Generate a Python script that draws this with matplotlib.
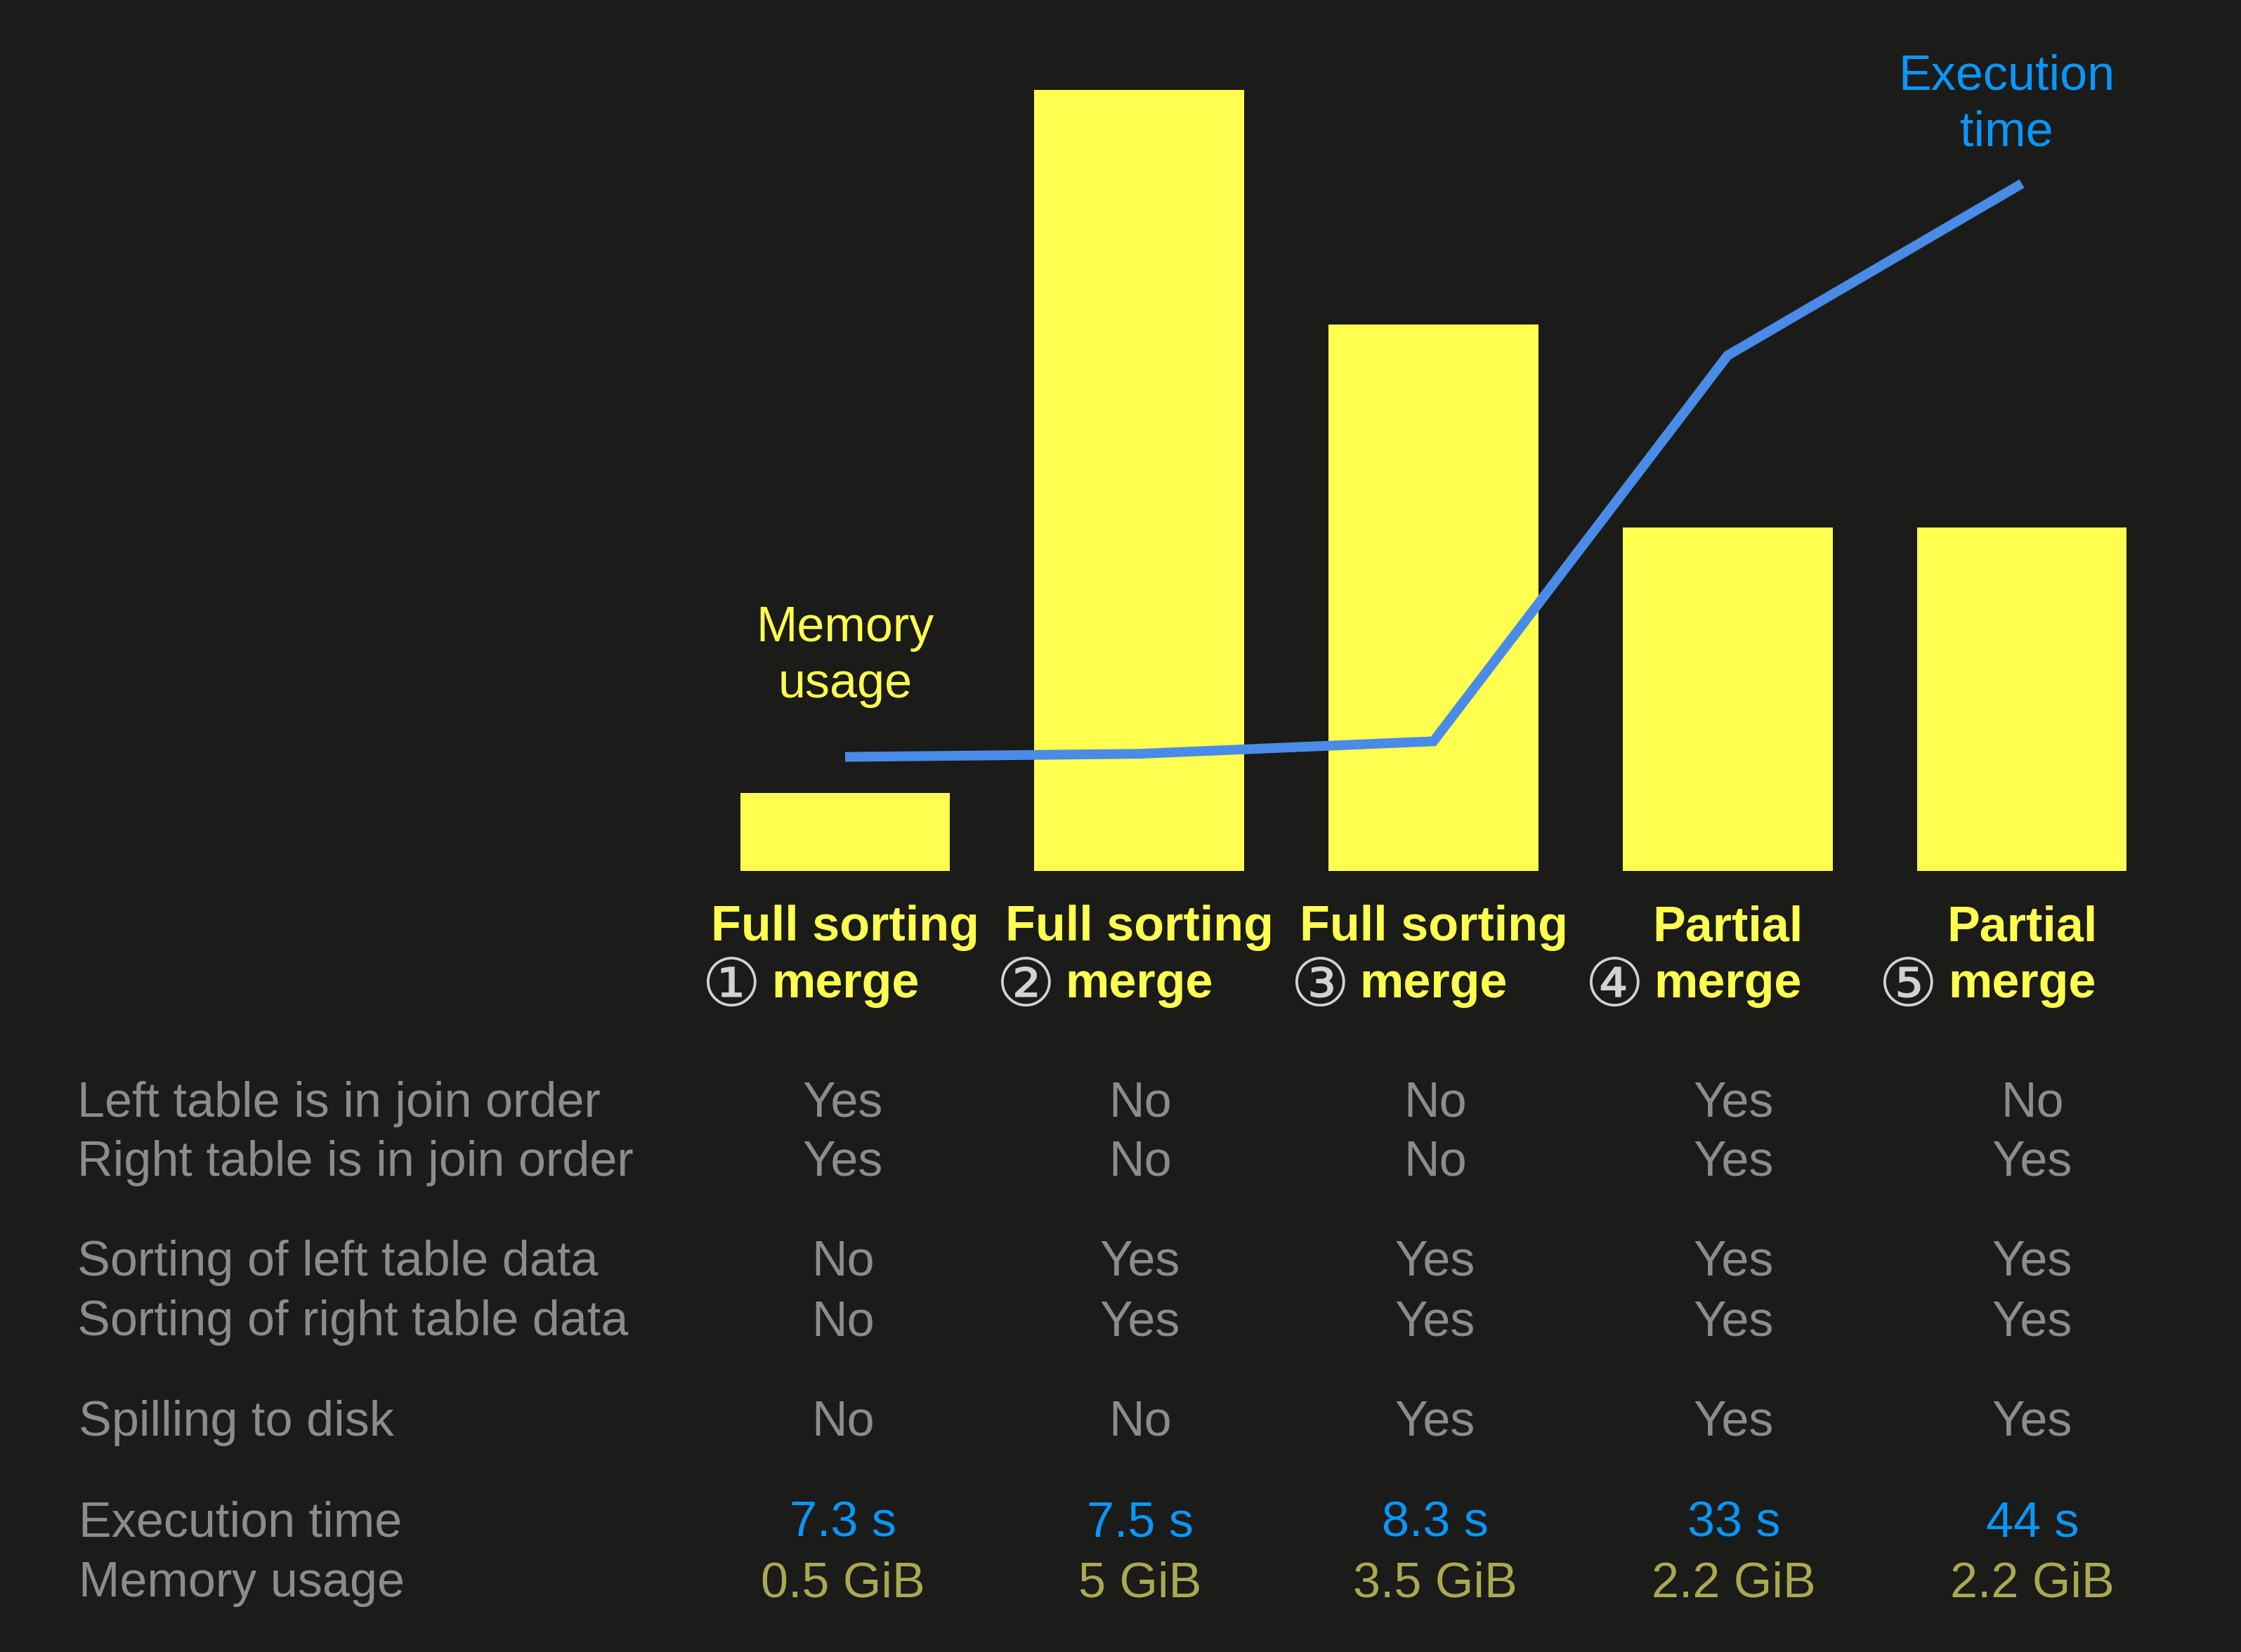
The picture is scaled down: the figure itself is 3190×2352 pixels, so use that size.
import matplotlib
matplotlib.use("Agg")
import matplotlib.pyplot as plt
from matplotlib.transforms import blended_transform_factory

# ---------------- data ----------------
categories = ["Full sorting merge", "Full sorting merge", "Full sorting merge",
              "Partial merge", "Partial merge"]
circled = ["\u2460", "\u2461", "\u2462", "\u2463", "\u2464"]
memory_gib = [0.5, 5, 3.5, 2.2, 2.2]
exec_time_s = [7.3, 7.5, 8.3, 33, 44]

row_labels = ["Left table is in join order", "Right table is in join order",
              "Sorting of left table data", "Sorting of right table data",
              "Spilling to disk", "Execution time", "Memory usage"]
left_in_order = ["Yes", "No", "No", "Yes", "No"]
right_in_order = ["Yes", "No", "No", "Yes", "Yes"]
sort_left = ["No", "Yes", "Yes", "Yes", "Yes"]
sort_right = ["No", "Yes", "Yes", "Yes", "Yes"]
spilling = ["No", "No", "Yes", "Yes", "Yes"]
exec_labels = ["7.3 s", "7.5 s", "8.3 s", "33 s", "44 s"]
mem_labels = ["0.5 GiB", "5 GiB", "3.5 GiB", "2.2 GiB", "2.2 GiB"]

# ---------------- style ----------------
BG = "#1b1b19"
YELLOW = "#ffff50"
LINE_BLUE = "#4a8be8"
TEXT_BLUE = "#0a96f8"
GRAY = "#8c8c8a"
OLIVE = "#a9a952"
CIRCLE_GRAY = "#d2d2d2"
FONT = ["Liberation Sans", "DejaVu Sans"]
FS = 50.5

W, H = 3190, 2352
fig = plt.figure(figsize=(W / 100, H / 100), dpi=100, facecolor=BG)


def fx(px):
    return px / W


def fy(py):
    return 1 - py / H


ax_left, ax_right = 993.6, 993.6 + 2093.75
ax_top, ax_bottom = 16.8, 1240
ax = fig.add_axes([fx(ax_left), fy(ax_bottom), (ax_right - ax_left) / W,
                   (ax_bottom - ax_top) / H])
ax.set_facecolor("none")
x = list(range(len(categories)))
ax.bar(x, memory_gib, width=0.713, color=YELLOW, zorder=1)
ax.set_xlim(-0.5, 4.5)
ax.set_ylim(0, 5.5)
ax.axis("off")

ax2 = ax.twinx()
ax2.set_ylim(0, 55)
ax2.plot(x, exec_time_s, color=LINE_BLUE, lw=10, solid_joinstyle="miter",
         solid_capstyle="butt", zorder=3)
ax2.axis("off")

bt = blended_transform_factory(ax.transData, fig.transFigure)

# annotations
ax.text(0, fy(913), "Memory", transform=bt, ha="center", va="baseline",
        color=YELLOW, fontsize=FS, family=FONT)
ax.text(0, fy(993), "usage", transform=bt, ha="center", va="baseline",
        color=YELLOW, fontsize=FS, family=FONT)
fig.text(fx(2856), fy(128), "Execution", ha="center", va="baseline",
         color=TEXT_BLUE, fontsize=FS, family=FONT)
fig.text(fx(2856), fy(208), "time", ha="center", va="baseline",
         color=TEXT_BLUE, fontsize=FS, family=FONT)

# category labels
for i, cat in enumerate(categories):
    first, second = cat.rsplit(" ", 1)
    ax.text(i, fy(1339), first, transform=bt, ha="center", va="baseline",
            color=YELLOW, fontsize=FS, fontweight="bold", family=FONT, clip_on=False)
    ax.text(i, fy(1420), second, transform=bt, ha="center", va="baseline",
            color=YELLOW, fontsize=FS, fontweight="bold", family=FONT, clip_on=False)
    ax.text(i - 0.385, fy(1432), circled[i], transform=bt, ha="center", va="baseline",
            color=CIRCLE_GRAY, fontsize=68, family=["DejaVu Sans"], clip_on=False)

# table
col_centers = [1200, 1623, 2043, 2468, 2893]
rows = [left_in_order, right_in_order, sort_left, sort_right, spilling,
        exec_labels, mem_labels]
baselines = [1590, 1674, 1816, 1901, 2044, 2188, 2273]
label_x = [110, 110, 110, 110, 112, 112, 112]
row_colors = [GRAY, GRAY, GRAY, GRAY, GRAY, TEXT_BLUE, OLIVE]
for r, (lab, vals) in enumerate(zip(row_labels, rows)):
    fig.text(fx(label_x[r]), fy(baselines[r]), lab, ha="left", va="baseline",
             color=GRAY, fontsize=FS, family=FONT)
    for c, v in enumerate(vals):
        fig.text(fx(col_centers[c]), fy(baselines[r]), v, ha="center", va="baseline",
                 color=row_colors[r], fontsize=FS, family=FONT)

fig.savefig("out.png", dpi=100, facecolor=BG)
